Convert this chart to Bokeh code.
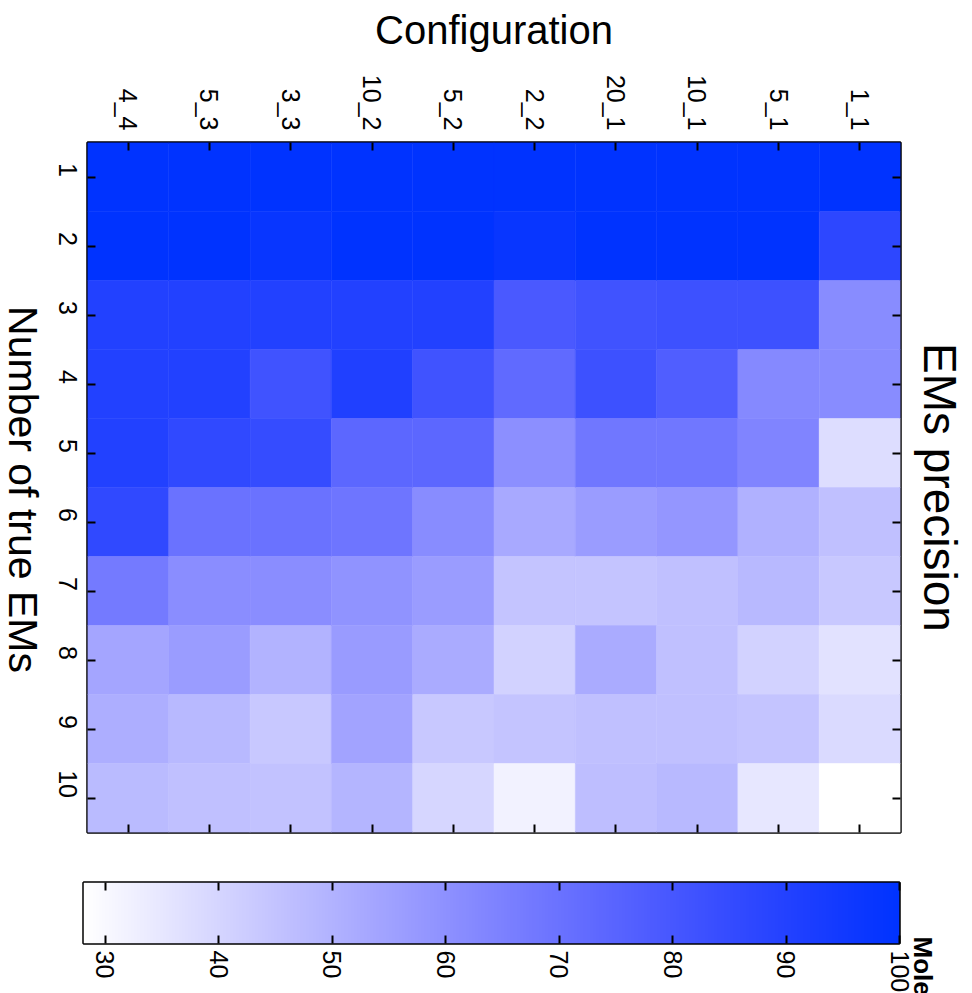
import numpy as np
from math import pi
from bokeh.plotting import figure
from bokeh.models import (CategoricalAxis, LinearAxis, FixedTicker, Title, Label,
                          LinearColorMapper, ColumnDataSource, Range1d, FactorRange,
                          CustomLabelingPolicy)
from bokeh.layouts import column, row
from bokeh.embed import file_html
from bokeh.resources import INLINE

# ---------------- data ----------------
configs = ["4_4", "5_3", "3_3", "10_2", "5_2", "2_2", "20_1", "10_1", "5_1", "1_1"]
n_true = ["1", "2", "3", "4", "5", "6", "7", "8", "9", "10"]

# precision per configuration, for number of true EMs = 1..10
prec_4_4 = [100, 100, 90.2, 90.2, 90.2, 86.5, 67.3, 53.8, 51.2, 47.6]
prec_5_3 = [100, 100, 90.2, 90.2, 86.5, 70.1, 61.1, 56.6, 48.1, 45.9]
prec_3_3 = [100, 97.5, 90.2, 82.0, 85.1, 70.1, 61.1, 49.8, 43.6, 45.3]
prec_10_2 = [100, 100, 90.2, 91.0, 74.1, 69.0, 59.4, 57.0, 54.3, 49.3]
prec_5_2 = [100, 100, 90.2, 82.0, 74.1, 61.7, 56.6, 52.1, 43.6, 39.7]
prec_2_2 = [100, 97.5, 79.2, 73.0, 60.5, 52.6, 44.7, 40.8, 44.7, 31.8]
prec_20_1 = [100, 100, 82.0, 82.8, 68.4, 56.6, 44.7, 52.1, 45.9, 46.4]
prec_10_1 = [100, 100, 82.8, 77.5, 68.4, 58.3, 45.9, 45.9, 45.9, 48.1]
prec_5_1 = [100, 100, 82.8, 62.5, 63.9, 50.4, 48.1, 40.8, 44.7, 35.1]
prec_1_1 = [100, 87.1, 61.7, 61.7, 37.7, 45.9, 43.6, 36.3, 38.5, 28.1]

cbar_ticks = [30, 40, 50, 60, 70, 80, 90, 100]
cbar_low, cbar_high = 28.1, 100.0

title_text = "EMs precision"
xlabel_text = "Configuration"
ylabel_text = "Number of true EMs"
cbar_title = "Mole"

# ---------------- build table ----------------
series = [prec_4_4, prec_5_3, prec_3_3, prec_10_2, prec_5_2,
          prec_2_2, prec_20_1, prec_10_1, prec_5_1, prec_1_1]
xs, ys, vs = [], [], []
for c, s in zip(configs, series):
    for n, v in zip(n_true, s):
        xs.append(c)
        ys.append(n)
        vs.append(v)
src = ColumnDataSource(dict(config=xs, n=ys, v=vs))

# white -> blue palette
palette = []
for t in np.linspace(0, 1, 256):
    r = int(round(255 * (1 - t)))
    g = min(255, int(round(r + 51 * t ** 3.5)))
    palette.append("#%02x%02x%02x" % (r, g, 255))
mapper = LinearColorMapper(palette=palette, low=cbar_low, high=cbar_high)

FONT = "Liberation Sans"
FW, FH = 813, 690
LW = 46           # width of the strip holding the rotated y-axis title
MAIN_H = 852

hide_all = CustomLabelingPolicy(code="""
for (const i of Array.from(indices)) { indices.unset(i) }
return indices
""")

p = figure(x_range=FactorRange(*configs), y_range=FactorRange(*reversed(n_true)),
           frame_width=FW, frame_height=FH, x_axis_location="above",
           min_border_left=87 - LW, min_border_right=72, min_border_top=142, min_border_bottom=20,
           output_backend="svg", toolbar_location=None)
p.rect(x="config", y="n", width=1, height=1, source=src,
       fill_color={"field": "v", "transform": mapper},
       line_color={"field": "v", "transform": mapper}, line_width=0.5)
p.grid.visible = False
p.outline_line_color = "black"
p.outline_line_width = 2.5
p.background_fill_color = "white"
p.border_fill_color = "white"


def style_axis(ax, show_labels, standoff=12):
    ax.axis_line_color = None
    ax.major_tick_in = 8
    ax.major_tick_out = 0
    ax.major_tick_line_width = 2
    ax.major_tick_line_color = "black"
    ax.minor_tick_line_color = None
    ax.major_label_text_font = FONT
    ax.major_label_text_font_size = "25px"
    ax.major_label_text_color = "black"
    ax.major_label_standoff = standoff
    ax.axis_label_text_font = FONT
    ax.axis_label_text_font_style = "normal"
    ax.axis_label_text_color = "black"
    if not show_labels:
        ax.major_label_policy = hide_all
        ax.major_label_standoff = 0
        ax.major_label_text_font_size = "2px"


for ax in p.xaxis:
    style_axis(ax, True, 12)
    ax.major_label_orientation = -pi / 2
    ax.axis_label = xlabel_text
    ax.axis_label_text_font_size = "40px"
    ax.axis_label_standoff = 20
for ax in p.yaxis:
    style_axis(ax, True, 20)
    ax.major_label_orientation = -pi / 2

bx = CategoricalAxis()
style_axis(bx, False)
p.add_layout(bx, "below")
ry = CategoricalAxis()
style_axis(ry, False)
p.add_layout(ry, "right")

t = Title(text=title_text, align="center", text_font=FONT, text_font_size="46px",
          text_font_style="normal", text_color="black", standoff=16)
p.add_layout(t, "right")

# strip on the left carrying the y-axis title, read top to bottom
lf = figure(width=LW, height=MAIN_H, x_range=Range1d(0, 1), y_range=Range1d(0, 1),
            x_axis_location=None, y_axis_location=None, min_border=0,
            output_backend="svg", toolbar_location=None)
lf.outline_line_color = None
lf.grid.visible = False
lf.add_layout(Label(x=22, y=MAIN_H - 509, x_units="screen", y_units="screen",
                    text=ylabel_text, angle=-pi / 2, text_align="center", text_baseline="middle",
                    text_font=FONT, text_font_size="41px", text_color="black"))

# ---------------- colour bar ----------------
CW, CH = 816, 61
cb = figure(x_range=Range1d(cbar_low, cbar_high), y_range=Range1d(0, 1),
            frame_width=CW, frame_height=CH, y_axis_location=None,
            min_border_left=83, min_border_right=73, min_border_top=30, min_border_bottom=50,
            output_backend="svg", toolbar_location=None)
grad = np.linspace(cbar_low, cbar_high, 512).reshape(1, -1)
cb.image(image=[grad], x=cbar_low, y=0, dw=cbar_high - cbar_low, dh=1, color_mapper=mapper)
cb.grid.visible = False
cb.outline_line_color = "black"
cb.outline_line_width = 2.5
cb.border_fill_color = "white"
for ax in cb.xaxis:
    style_axis(ax, True, 7)
    ax.ticker = FixedTicker(ticks=cbar_ticks)
    ax.major_label_orientation = -pi / 2
top = LinearAxis(ticker=FixedTicker(ticks=cbar_ticks))
style_axis(top, False)
cb.add_layout(top, "above")
ct = Title(text=cbar_title, align="left", offset=54, text_font=FONT, text_font_size="26px",
           text_font_style="bold", text_color="black", standoff=16)
cb.add_layout(ct, "right")

layout = column(row(lf, p, spacing=0), cb, spacing=0)
open("out.html", "w").write(file_html(layout, INLINE))
